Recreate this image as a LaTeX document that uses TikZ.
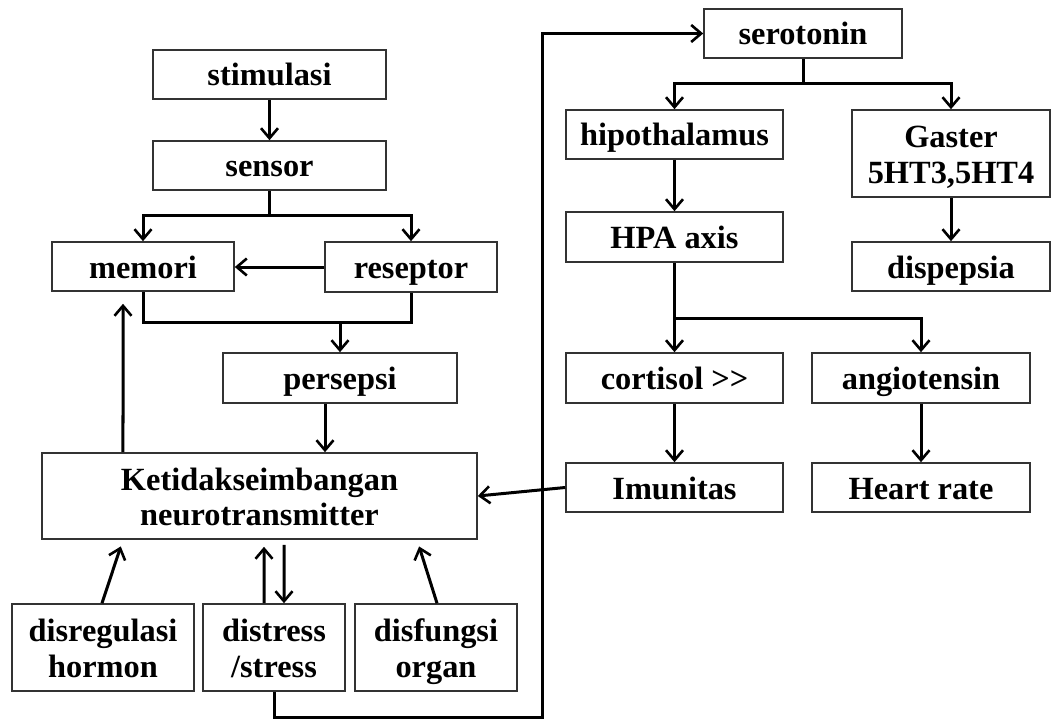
\documentclass[tikz,border=0pt]{standalone}
\usepackage{fontspec}
\setmainfont{Liberation Serif}
\usetikzlibrary{arrows.meta,calc}
\newcommand\twoln[2]{\rule{0pt}{31bp}#1\\#2\rule[-7bp]{0pt}{7bp}}
\begin{document}
\begin{tikzpicture}[x=1bp,y=-1bp,
  box/.style={draw=black!80,line width=1.6bp,inner sep=0pt,
    font=\bfseries\fontsize{32.5}{36}\selectfont},
  one/.style={box,text height=27bp,text depth=4bp},
  two/.style={box,align=center},
  arr/.style={line width=3bp,-{Straight Barb[length=10bp,width=17bp,line width=2.6bp]}},
  ln/.style={line width=3bp}]
\useasboundingbox (0,0) rectangle (1055,720);
% left column
\node[one,minimum width=233bp,minimum height=49bp] (stim) at (269.5,74.5) {stimulasi};
\node[one,minimum width=233bp,minimum height=49bp] (sensor) at (269.5,165.5) {sensor};
\node[one,minimum width=182bp,minimum height=49bp] (memori) at (143,266.5) {memori};
\node[one,minimum width=172bp,minimum height=50bp] (reseptor) at (411,267) {reseptor};
\node[one,minimum width=234bp,minimum height=50bp] (persepsi) at (340,378) {persepsi};
\node[two,minimum width=435bp,minimum height=86bp] (ketidak) at (259.5,496) {\twoln{Ketidakseimbangan}{neurotransmitter}};
\node[two,minimum width=182bp,minimum height=87bp] (disreg) at (103,647.5) {\twoln{disregulasi}{hormon}};
\node[two,minimum width=142bp,minimum height=87bp] (distress) at (274,647.5) {\twoln{distress}{/stress}};
\node[two,minimum width=162bp,minimum height=87bp] (disfungsi) at (436,647.5) {\twoln{disfungsi}{organ}};
% right column
\node[one,minimum width=198bp,minimum height=49bp] (serotonin) at (803,33.5) {serotonin};
\node[one,minimum width=217bp,minimum height=49bp] (hipo) at (674.5,134.5) {hipothalamus};
\node[two,minimum width=198bp,minimum height=87bp] (gaster) at (951,153.5) {\twoln{Gaster}{5HT3,5HT4}};
\node[one,minimum width=217bp,minimum height=50bp] (hpa) at (674.5,237) {HPA axis};
\node[one,minimum width=198bp,minimum height=49bp] (dispepsia) at (951,266.5) {dispepsia};
\node[one,minimum width=217bp,minimum height=50bp] (cortisol) at (674.5,378) {cortisol >{}>};
\node[one,minimum width=218bp,minimum height=50bp] (angio) at (921,378) {angiotensin};
\node[one,minimum width=217bp,minimum height=49bp] (imun) at (674.5,487.5) {Imunitas};
\node[one,minimum width=218bp,minimum height=49bp] (heart) at (921,487.5) {Heart rate};
% branch points
\coordinate (b1) at (269.5,215);
\coordinate (b2) at (340,322);
\coordinate (b3) at (803,84);
\coordinate (b4) at (674.5,318);
\coordinate (loop) at (542,717);
% left connectors
\draw[arr] (stim) -- (sensor);
\draw[ln] (sensor.south) -- (b1);
\draw[arr] (b1) -| (memori.north);
\draw[arr] (b1) -| (reseptor.north);
\draw[arr] (reseptor.west) -- (reseptor.west -| memori.east);
\draw[ln] (memori.south) |- (b2) -| (reseptor.south);
\draw[arr] (b2) -- (persepsi.north);
\draw[arr] ([xshift=-15bp]persepsi.south) -- ([xshift=-15bp]persepsi.south |- ketidak.north);
\draw[arr,shorten >=12bp] ([xshift=-136.5bp]ketidak.north) -- ([xshift=-20bp]memori.south);
\draw[arr,shorten >=7bp] ([xshift=-1bp]disreg.north) -- ([xshift=-136.5bp]ketidak.south);
\draw[arr,shorten >=7bp] ([xshift=-10bp]distress.north) -- ([xshift=4.5bp]ketidak.south);
\draw[arr,shorten <=5bp] ([xshift=24.5bp]ketidak.south) -- ([xshift=10bp]distress.north);
\draw[arr,shorten >=7bp] ([xshift=1bp]disfungsi.north) -- ([xshift=157.5bp]ketidak.south);
\draw[arr] (distress.south) |- (loop) |- (serotonin.west);
\draw[arr] (imun.west) -- (ketidak.east);
% right connectors
\draw[ln] (serotonin.south) -- (b3);
\draw[arr] (b3) -| (hipo.north);
\draw[arr] (b3) -| (gaster.north);
\draw[arr] (hipo) -- (hpa);
\draw[arr] (gaster) -- (dispepsia);
\draw[arr] (hpa) -- (cortisol);
\draw[arr] (b4) -| (angio.north);
\draw[arr] (cortisol) -- (imun);
\draw[arr] (angio) -- (heart);
\end{tikzpicture}
\end{document}
